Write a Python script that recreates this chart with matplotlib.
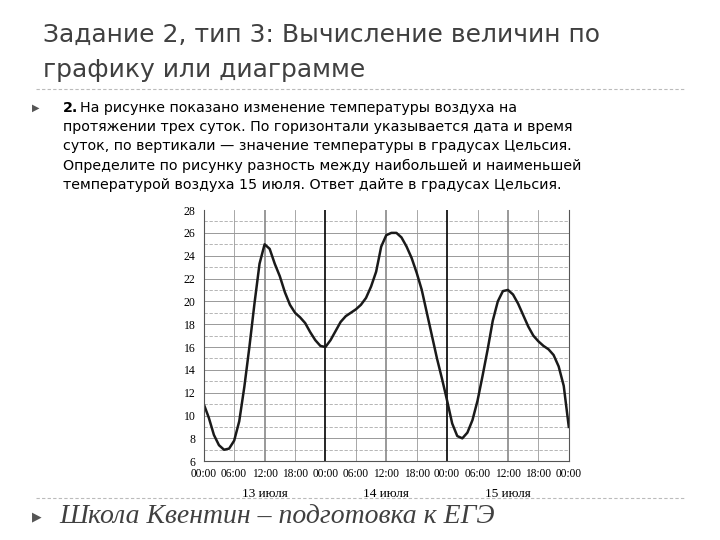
import matplotlib
matplotlib.use("Agg")
import matplotlib.pyplot as plt
from matplotlib.ticker import MultipleLocator

hours = [0, 1, 2, 3, 4, 5, 6, 7, 8, 9, 10, 11, 12, 13, 14, 15, 16, 17, 18, 19, 20, 21, 22, 23, 24,
         25, 26, 27, 28, 29, 30, 31, 32, 33, 34, 35, 36, 37, 38, 39, 40, 41, 42, 43, 44, 45, 46, 47, 48,
         49, 50, 51, 52, 53, 54, 55, 56, 57, 58, 59, 60, 61, 62, 63, 64, 65, 66, 67, 68, 69, 70, 71, 72]
temps = [11, 9.8, 8.3, 7.4, 7.0, 7.1, 7.8, 9.5, 12.5, 16, 19.8, 23.3, 25, 24.6, 23.3, 22.2, 20.8, 19.7, 19.0, 18.6, 18.1, 17.3, 16.6, 16.1, 16.0,
         16.6, 17.4, 18.2, 18.7, 19.0, 19.3, 19.7, 20.3, 21.3, 22.6, 24.8, 25.8, 26.0, 26.0, 25.6, 24.8, 23.8, 22.5, 21.0, 19.0, 17.0, 15.0, 13.2, 11.3,
         9.3, 8.2, 8.0, 8.5, 9.6, 11.3, 13.5, 15.8, 18.3, 20.0, 20.9, 21.0, 20.6, 19.8, 18.8, 17.8, 17.0, 16.5, 16.1, 15.8, 15.3, 14.3, 12.6, 9.0]
tick_labels = ["00:00", "06:00", "12:00", "18:00"] * 3 + ["00:00"]
day_labels = ["13 июля", "14 июля", "15 июля"]

fig = plt.figure(figsize=(7.2, 5.4), dpi=100)
fig.text(0.06, 0.935, "Задание 2, тип 3: Вычисление величин по", fontsize=18, color="#404040", va="center")
fig.text(0.06, 0.870, "графику или диаграмме", fontsize=18, color="#404040", va="center")
fig.add_artist(plt.Line2D([0.05, 0.95], [0.835, 0.835], color="#bbbbbb", lw=0.8, ls=(0, (3, 2))))
fig.text(0.045, 0.80, "▶", fontsize=7, color="#555555", va="center")
body = ["На рисунке показано изменение температуры воздуха на",
        "протяжении трех суток. По горизонтали указывается дата и время",
        "суток, по вертикали — значение температуры в градусах Цельсия.",
        "Определите по рисунку разность между наибольшей и наименьшей",
        "температурой воздуха 15 июля. Ответ дайте в градусах Цельсия."]
fig.text(0.088, 0.80, "2.", fontsize=10.3, weight="bold", va="center")
fig.text(0.111, 0.80, body[0], fontsize=10.3, va="center")
for i, t in enumerate(body[1:]):
    fig.text(0.088, 0.80 - 0.0355 * (i + 1), t, fontsize=10.3, va="center")

ax = fig.add_axes([0.283, 0.146, 0.507, 0.465])
ax.set_xlim(0, 72)
ax.set_ylim(6, 28)
ax.yaxis.set_major_locator(MultipleLocator(2))
ax.set_xticks(range(0, 73, 6))
ax.set_xticklabels(tick_labels, fontsize=8.3, family="Liberation Serif")
for lab in ax.get_yticklabels():
    lab.set_family("Liberation Serif"); lab.set_fontsize(8.5)
ax.tick_params(length=0)
ax.tick_params(axis="x", pad=5)
ax.tick_params(axis="y", pad=6)
for y in range(7, 28, 2):
    ax.axhline(y, color="#aaaaaa", lw=0.6, ls=(0, (4, 2)))
for y in range(8, 28, 2):
    ax.axhline(y, color="#999999", lw=0.7)
for x in range(6, 72, 6):
    c = "black" if x % 24 == 0 else ("#888888" if x % 12 == 0 else "#999999")
    ax.axvline(x, color=c, lw=1.2 if x % 12 == 0 else 0.6)
for s in ax.spines.values():
    s.set_visible(False)
for k in ("left", "right", "bottom"):
    ax.spines[k].set_visible(True); ax.spines[k].set_color("#555555")
ax.plot(hours, temps, color="#1a1a1a", lw=1.8, solid_joinstyle="round")
for i, d in enumerate(day_labels):
    ax.text(12 + 24 * i, -0.105, d, transform=ax.get_xaxis_transform(), ha="center", va="top",
            fontsize=9.5, family="Liberation Serif")

fig.add_artist(plt.Line2D([0.05, 0.95], [0.078, 0.078], color="#bbbbbb", lw=0.8, ls=(0, (3, 2))))
fig.text(0.045, 0.043, "▶", fontsize=9, color="#555555", va="center")
fig.text(0.083, 0.043, "Школа Квентин – подготовка к ЕГЭ", fontsize=20, style="italic",
         color="#404040", va="center", family="Liberation Serif")
fig.savefig("out.png", dpi=100)
